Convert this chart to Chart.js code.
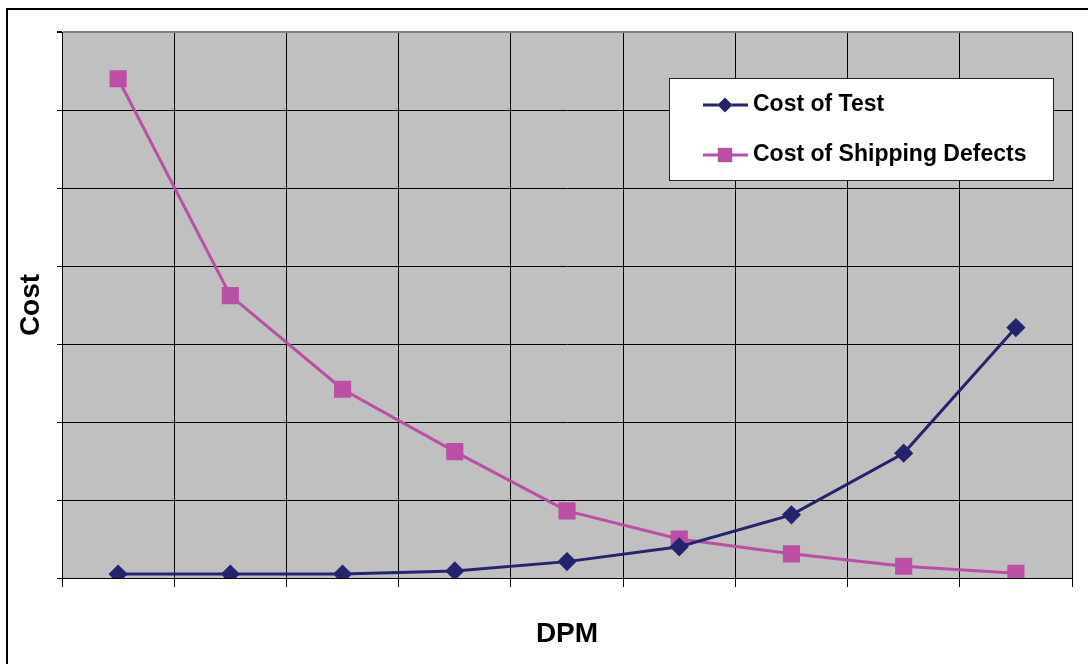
<!DOCTYPE html>
<html lang="en">
<head>
  <meta charset="UTF-8">
  <title>Cost vs DPM</title>
  <script src="https://cdn.jsdelivr.net/npm/chart.js"></script>
  <style>
    html, body { margin: 0; padding: 0; background: #fff; }
    #wrap { width: 1088px; height: 664px; }
  </style>
</head>
<body>
  <div id="wrap"><canvas id="costChart" width="1088" height="664"></canvas></div>

  <script>
    // values (axis has no labels, units are gridline steps)
    const dpmLevels = ['1', '2', '3', '4', '5', '6', '7', '8', '9'];
    const costOfTest = [0.05, 0.05, 0.05, 0.09, 0.21, 0.40, 0.81, 1.60, 3.21];
    const costOfShipping = [6.40, 3.62, 2.42, 1.62, 0.86, 0.50, 0.31, 0.15, 0.06];
    const costTicks = [0, 1, 2, 3, 4, 5, 6, 7];

    const FONT = "Arial, 'Liberation Sans', sans-serif";
    const NAVY = '#24246e';
    const MAGENTA = '#bb4fa6';

    // gray plot background, outer frame and the boxed legend
    const decor = {
      id: 'decor',
      beforeDraw(chart) {
        const { ctx, chartArea: a } = chart;
        ctx.save();
        ctx.fillStyle = '#c0c0c0';
        ctx.fillRect(a.left, a.top, a.right - a.left, a.bottom - a.top);
        ctx.restore();
      },
      afterDraw(chart) {
        const ctx = chart.ctx;
        ctx.save();
        ctx.strokeStyle = '#000';
        ctx.lineWidth = 2;
        ctx.beginPath();
        ctx.moveTo(7, 664);
        ctx.lineTo(7, 9);
        ctx.lineTo(1088, 9);
        ctx.stroke();

        // legend box
        ctx.fillStyle = '#fff';
        ctx.fillRect(669, 78, 384, 102);
        ctx.lineWidth = 1;
        ctx.strokeStyle = '#222';
        ctx.strokeRect(669.5, 78.5, 384, 102);

        const rows = [105, 155];
        chart.data.datasets.forEach((ds, i) => {
          const y = rows[i];
          ctx.strokeStyle = ds.borderColor;
          ctx.lineWidth = 3;
          ctx.beginPath();
          ctx.moveTo(703, y);
          ctx.lineTo(748, y);
          ctx.stroke();
          Chart.helpers.drawPoint(ctx, {
            pointStyle: ds.pointStyle,
            radius: ds.pointRadius,
            borderWidth: 0
          }, 725, y);
          ctx.fillStyle = ds.pointBackgroundColor;
          ctx.fill();
          ctx.fillStyle = '#000';
          ctx.font = 'bold 23px ' + FONT;
          ctx.textBaseline = 'middle';
          ctx.textAlign = 'left';
          ctx.fillText(ds.label, 753, y);
        });
        ctx.restore();
      }
    };

    new Chart(document.getElementById('costChart'), {
      type: 'line',
      data: {
        labels: dpmLevels,
        datasets: [
          {
            label: 'Cost of Test',
            data: costOfTest,
            borderColor: NAVY,
            backgroundColor: NAVY,
            pointBackgroundColor: NAVY,
            pointBorderColor: NAVY,
            pointStyle: 'rectRot',
            pointRadius: 7.5,
            borderWidth: 3,
            tension: 0
          },
          {
            label: 'Cost of Shipping Defects',
            data: costOfShipping,
            borderColor: MAGENTA,
            backgroundColor: MAGENTA,
            pointBackgroundColor: MAGENTA,
            pointBorderColor: MAGENTA,
            pointStyle: 'rect',
            pointRadius: 10,
            borderWidth: 3,
            tension: 0
          }
        ]
      },
      options: {
        responsive: false,
        animation: false,
        layout: { padding: { left: 0, top: 32, right: 16, bottom: 0 } },
        plugins: {
          legend: { display: false },
          tooltip: { enabled: false }
        },
        scales: {
          x: {
            offset: true,
            afterFit(scale) { scale.height = 86; },
            grid: {
              offset: true,
              color: c => (c.index === dpmLevels.length ? '#808080' : '#000'),
              lineWidth: c => (c.index === dpmLevels.length ? 2 : 1),
              tickColor: '#000',
              tickLength: 9
            },
            border: { color: '#000', width: 1 },
            ticks: { display: false },
            title: {
              display: true,
              text: 'DPM',
              color: '#000',
              font: { family: FONT, size: 28, weight: 'bold' },
              padding: { top: 0, bottom: 13 }
            }
          },
          y: {
            min: costTicks[0],
            max: costTicks[costTicks.length - 1],
            afterFit(scale) { scale.width = 62; },
            afterBuildTicks(scale) { scale.ticks = costTicks.map(v => ({ value: v })); },
            grid: {
              color: c => (c.tick && c.tick.value === 7 ? '#808080' : '#000'),
              lineWidth: c => (c.tick && c.tick.value === 7 ? 2 : 1),
              tickColor: '#000',
              tickLength: 5
            },
            border: { color: '#000', width: 1 },
            ticks: { display: false },
            title: {
              display: true,
              text: 'Cost',
              color: '#000',
              font: { family: FONT, size: 28, weight: 'bold' },
              padding: { top: 14, bottom: 0 }
            }
          }
        }
      },
      plugins: [decor]
    });
  </script>
</body>
</html>
